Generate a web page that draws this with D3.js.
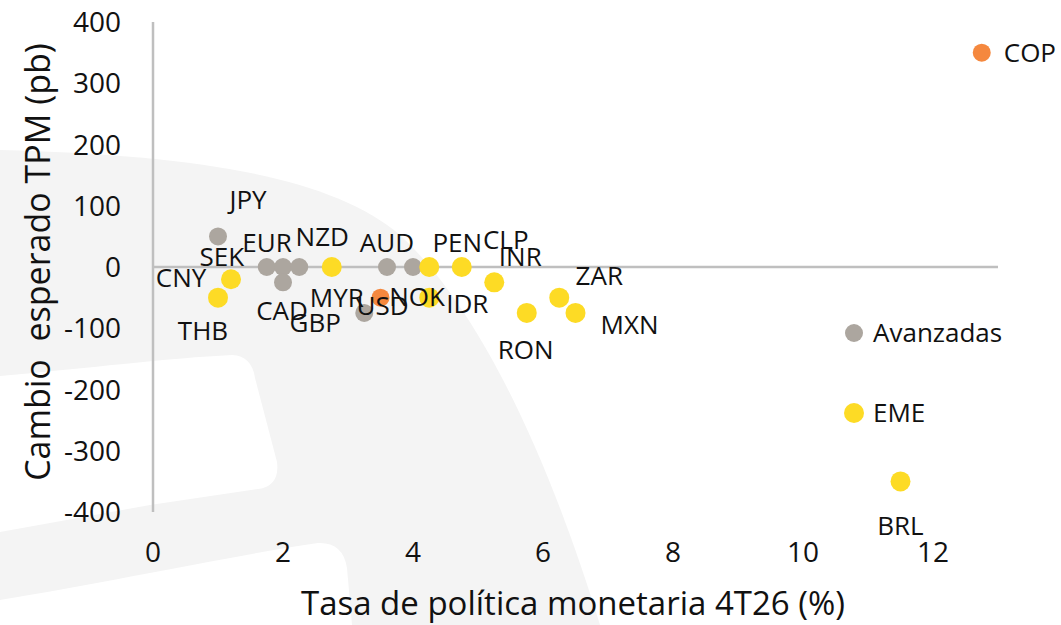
<!DOCTYPE html>
<html>
<head>
<meta charset="utf-8">
<script src="https://cdn.jsdelivr.net/npm/d3@7"></script>
<style>
  body { margin: 0; background: #fff; }
  svg { display: block; font-family: "Open Sans", "Noto Sans", sans-serif; }
</style>
</head>
<body>
<div id="chart"></div>
<script>
// DATA
// ================================================================ //
const codes  = ["JPY", "SEK", "EUR", "NZD", "CAD", "GBP", "AUD", "NOK", "USD",
                "CNY", "THB", "MYR", "PEN", "CLP", "INR", "IDR", "RON", "ZAR", "MXN", "BRL", "COP"];
const groups = ["adv", "adv", "adv", "adv", "adv", "adv", "adv", "adv", "hl",
                "eme", "eme", "eme", "eme", "eme", "eme", "eme", "eme", "eme", "eme", "eme", "hl"];
// tasa de politica monetaria 4T26 (%)
const rate   = [1.0, 1.75, 2.0, 2.25, 2.0, 3.25, 3.6, 4.0, 3.5,
                1.2, 1.0, 2.75, 4.25, 4.75, 5.25, 4.25, 5.75, 6.25, 6.5, 11.5, 12.75];
// cambio esperado TPM (pb)
const change = [50, 0, 0, 0, -25, -75, 0, 0, -50,
                -20, -50, 0, 0, 0, -25, -50, -75, -50, -75, -350, 350];

const xTicks = [0, 2, 4, 6, 8, 10, 12];
const yTicks = [-400, -300, -200, -100, 0, 100, 200, 300, 400];
const legendItems = [
    { key: "adv", label: "Avanzadas" },
    { key: "eme", label: "EME" }
];
// ================================================================ //

// label offsets from the point, in pixels
const labelOffset = {
    JPY: [30, -37], SEK: [-45, -10], EUR: [-16, -24], NZD: [23, -30], CAD: [-1, 28],
    GBP: [-49, 10], AUD: [0, -24], NOK: [4, 30], USD: [2, 8], CNY: [-50, -2],
    THB: [-15, 33], MYR: [5, 31], PEN: [28, -24], CLP: [44, -27], INR: [26, -26],
    IDR: [38, 6], RON: [-1, 37], ZAR: [40, -22], MXN: [54, 12], BRL: [0, 44], COP: [22, 0]
};

const colors = { adv: "#aca69f", eme: "#fddb25", hl: "#f5883e" };
const radius = { adv: 9, eme: 10, hl: 9 };

const width = 1061;
const height = 625;

const points = codes.map((c, i) => ({ code: c, group: groups[i], x: rate[i], y: change[i] }));

const svg = d3.select("#chart")
    .append("svg")
    .attr("width", width)
    .attr("height", height);

// faint watermark in the background
const wm = svg.append("g");
wm.append("path")
    .attr("d", "M0,150 C190,155 330,175 400,235 C470,300 540,430 600,625 L0,625 Z")
    .attr("fill", "#f4f4f4");
wm.append("path")
    .attr("d", "M0,376 C90,368 170,358 232,355 Q252,356 255,378 L277,462 Q280,486 258,489 L150,505 L0,532 Z")
    .attr("fill", "#fff");
wm.append("path")
    .attr("d", "M0,600 C110,582 230,556 318,543 Q343,542 347,568 L352,625 L0,625 Z")
    .attr("fill", "#fff");

const x = d3.scaleLinear().domain([0, 13]).range([153, 998]);
const y = d3.scaleLinear().domain([-400, 400]).range([512, 22]);

// axis lines
svg.append("line")
    .attr("x1", x(0)).attr("x2", x(0))
    .attr("y1", y(400)).attr("y2", y(-400))
    .attr("stroke", "#bfbfbf").attr("stroke-width", 2.5);
svg.append("line")
    .attr("x1", x(0)).attr("x2", x(13))
    .attr("y1", y(0)).attr("y2", y(0))
    .attr("stroke", "#bfbfbf").attr("stroke-width", 2.5);

// tick labels
svg.append("g")
    .selectAll("text")
    .data(yTicks)
    .join("text")
    .attr("x", 121)
    .attr("y", d => y(d))
    .attr("dy", "0.36em")
    .attr("text-anchor", "end")
    .attr("font-size", 28)
    .attr("font-weight", 500)
    .attr("fill", "#111")
    .text(d => d);

svg.append("g")
    .selectAll("text")
    .data(xTicks)
    .join("text")
    .attr("x", d => x(d))
    .attr("y", 552)
    .attr("dy", "0.36em")
    .attr("text-anchor", "middle")
    .attr("font-size", 28)
    .attr("font-weight", 500)
    .attr("fill", "#111")
    .text(d => d);

// axis titles
svg.append("text")
    .attr("transform", `translate(38, 262) rotate(-90)`)
    .attr("text-anchor", "middle")
    .attr("dy", "0.36em")
    .attr("font-size", 34)
    .attr("fill", "#111")
    .attr("xml:space", "preserve")
    .text("Cambio  esperado TPM (pb)");

svg.append("text")
    .attr("x", 573)
    .attr("y", 603)
    .attr("dy", "0.36em")
    .attr("text-anchor", "middle")
    .attr("font-size", 33)
    .attr("fill", "#111")
    .text("Tasa de política monetaria 4T26 (%)");

// points
svg.append("g")
    .selectAll("circle")
    .data(points)
    .join("circle")
    .attr("cx", d => x(d.x))
    .attr("cy", d => y(d.y))
    .attr("r", d => radius[d.group])
    .attr("fill", d => colors[d.group]);

// point labels
svg.append("g")
    .selectAll("text")
    .data(points)
    .join("text")
    .attr("x", d => x(d.x) + labelOffset[d.code][0])
    .attr("y", d => y(d.y) + labelOffset[d.code][1])
    .attr("dy", "0.36em")
    .attr("text-anchor", d => d.code === "COP" ? "start" : "middle")
    .attr("font-size", 26)
    .attr("fill", "#111")
    .text(d => d.code);

// legend
const legend = svg.append("g")
    .selectAll("g")
    .data(legendItems)
    .join("g")
    .attr("transform", (d, i) => `translate(854, ${333 + i * 80})`);

legend.append("circle")
    .attr("r", d => radius[d.key])
    .attr("fill", d => colors[d.key]);

legend.append("text")
    .attr("x", 19)
    .attr("dy", "0.36em")
    .attr("font-size", 26)
    .attr("fill", "#111")
    .text(d => d.label);
</script>
</body>
</html>
